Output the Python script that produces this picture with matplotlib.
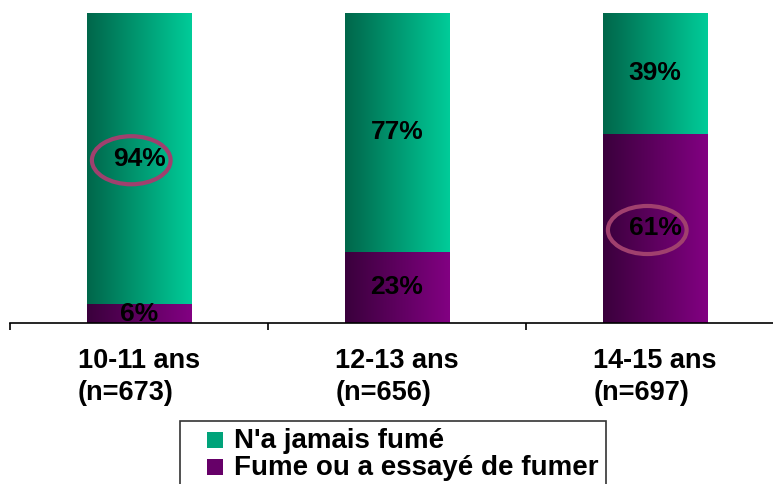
import numpy as np
import matplotlib
matplotlib.use('Agg')
import matplotlib.pyplot as plt
from matplotlib.patches import Ellipse, Rectangle
from matplotlib.legend_handler import HandlerPatch
from matplotlib.colors import LinearSegmentedColormap

plt.rcParams['font.family'] = ['Liberation Sans', 'DejaVu Sans']
plt.rcParams['font.weight'] = 'bold'

# data
categories = ['10-11 ans\n(n=673)', '12-13 ans\n(n=656)', '14-15 ans\n(n=697)']
fume = [6, 23, 61]            # Fume ou a essayé de fumer
jamais = [94, 77, 39]         # N'a jamais fumé
series_names = ["N'a jamais fumé", "Fume ou a essayé de fumer"]
circled = [(0, 'jamais'), (2, 'fume')]

green_cmap = LinearSegmentedColormap.from_list('g', ['#00664a', '#00cc99'])
purple_cmap = LinearSegmentedColormap.from_list('p', ['#3a003c', '#820082'])

fig = plt.figure(figsize=(7.73, 4.84), dpi=100)
ax = fig.add_axes([10 / 773, 1 - 323 / 484, 763 / 773, 310 / 484])

x = np.arange(len(categories))
width = 0.405
xlim = (-0.5, -0.5 + 763 / 258)
ylim = (0, 100)

bars_f = ax.bar(x, fume, width, color='none', edgecolor='none')
bars_j = ax.bar(x, jamais, width, bottom=fume, color='none', edgecolor='none')

# horizontal gradient inside each bar
grad = np.linspace(0, 1, 256).reshape(1, -1)
for bars, cmap in [(bars_f, purple_cmap), (bars_j, green_cmap)]:
    for b in bars:
        x0, y0 = b.get_x(), b.get_y()
        im = ax.imshow(grad, cmap=cmap, aspect='auto', interpolation='bicubic',
                       extent=[x0, x0 + b.get_width(), y0, y0 + b.get_height()],
                       zorder=1)
        im.set_clip_path(b)

ax.set_xlim(*xlim)
ax.set_ylim(*ylim)

# percent labels
for i in range(len(categories)):
    ax.text(x[i], fume[i] / 2, f'{fume[i]}%', ha='center', va='center',
            fontsize=19, fontweight='bold', color='black', zorder=3)
    ax.text(x[i], fume[i] + jamais[i] / 2, f'{jamais[i]}%', ha='center', va='center',
            fontsize=19, fontweight='bold', color='black', zorder=3)

# highlight ellipses
for i, which in circled:
    yc = fume[i] / 2 if which == 'fume' else fume[i] + jamais[i] / 2
    ax.add_patch(Ellipse((x[i] - 0.03, yc - 0.5), 0.305, 15.5, fill=False,
                         edgecolor='#a0406e', lw=3, zorder=4))

# axes styling
for s in ['top', 'right', 'left']:
    ax.spines[s].set_visible(False)
ax.spines['bottom'].set_linewidth(1.2)
ax.set_yticks([])
ax.set_xticks(x)
ax.set_xticklabels(categories, fontsize=19.5, fontweight='bold',
                   multialignment='left', linespacing=1.3)
ax.tick_params(axis='x', which='major', length=0, pad=18)
ax.set_xticks(np.arange(-0.5, 2.5, 1.0), minor=True)
ax.tick_params(axis='x', which='minor', length=5, width=1.2, direction='out')


class SquareHandler(HandlerPatch):
    def create_artists(self, legend, orig_handle, xdescent, ydescent, width,
                       height, fontsize, trans):
        s = 0.58 * fontsize
        p = Rectangle((width - s - xdescent, -ydescent + (height - s) / 2 - 1), s, s,
                      facecolor=orig_handle.get_facecolor(), edgecolor='none',
                      transform=trans)
        return [p]


h1 = Rectangle((0, 0), 1, 1, facecolor='#00a37a')
h2 = Rectangle((0, 0), 1, 1, facecolor='#660068')
leg = fig.legend([h1, h2], series_names, loc='upper left',
                 bbox_to_anchor=(180 / 773, 1 - 421 / 484),
                 prop={'size': 20, 'weight': 'bold'},
                 handler_map={Rectangle: SquareHandler()},
                 handlelength=1.3, handletextpad=0.4, borderpad=0.25,
                 labelspacing=0.05, fancybox=False, frameon=True,
                 borderaxespad=0)
leg.get_frame().set_edgecolor('black')
leg.get_frame().set_linewidth(1.2)

fig.savefig('out.png', dpi=100)
